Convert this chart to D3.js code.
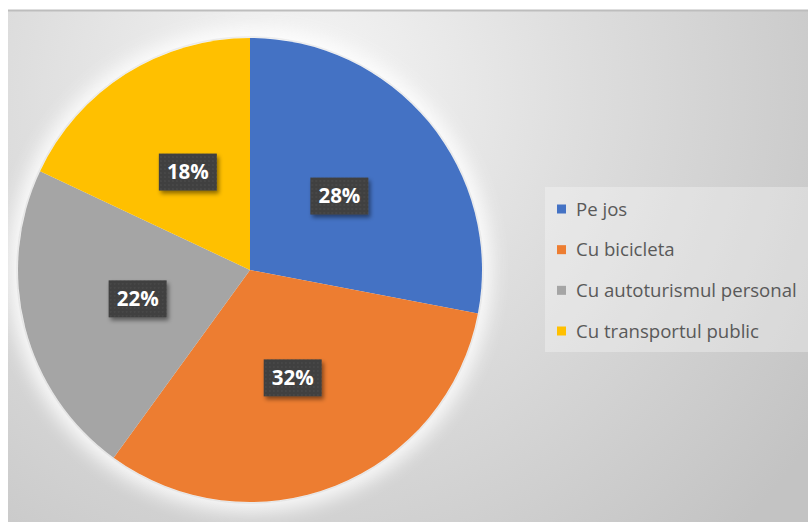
<!DOCTYPE html>
<html>
<head>
<meta charset="utf-8">
<script src="https://cdn.jsdelivr.net/npm/d3@7"></script>
<style>
  html, body { margin: 0; padding: 0; background: #ffffff; }
  svg { display: block; }
</style>
</head>
<body>
<svg id="chart" width="808" height="522"></svg>
<script>
// Modes of travel and their shares (%)
const categories = ["Pe jos", "Cu bicicleta", "Cu autoturismul personal", "Cu transportul public"];
const shares = [28, 32, 22, 18];
const colors = ["#4472C4", "#ED7D31", "#A5A5A5", "#FFC000"];

const svg = d3.select("#chart");
const W = 808, H = 522;
const cx = 250, cy = 270, R = 232;

const defs = svg.append("defs");

// panel background: light at the top, greyer towards the corners
const bg = defs.append("radialGradient").attr("id", "bgGrad")
  .attr("gradientUnits", "userSpaceOnUse")
  .attr("cx", 300).attr("cy", 90).attr("r", 620);
bg.append("stop").attr("offset", "0%").attr("stop-color", "#f6f6f6");
bg.append("stop").attr("offset", "45%").attr("stop-color", "#dedede");
bg.append("stop").attr("offset", "100%").attr("stop-color", "#c3c3c3");

// soft white halo around the pie
const glow = defs.append("filter").attr("id", "glow")
  .attr("x", "-20%").attr("y", "-20%").attr("width", "140%").attr("height", "140%");
glow.append("feGaussianBlur").attr("stdDeviation", 9);

// drop shadow for the data label boxes
const sh = defs.append("filter").attr("id", "lblShadow")
  .attr("x", "-30%").attr("y", "-30%").attr("width", "170%").attr("height", "170%");
sh.append("feDropShadow").attr("dx", 2).attr("dy", 3).attr("stdDeviation", 2)
  .attr("flood-color", "#000").attr("flood-opacity", 0.45);

// dotted texture of the label boxes
const pat = defs.append("pattern").attr("id", "dots")
  .attr("width", 4).attr("height", 4).attr("patternUnits", "userSpaceOnUse");
pat.append("rect").attr("width", 4).attr("height", 4).attr("fill", "#3f3f3f");
pat.append("circle").attr("cx", 1).attr("cy", 1).attr("r", 0.7).attr("fill", "#555555");

// chart panel
svg.append("rect").attr("x", 8).attr("y", 10).attr("width", W - 8).attr("height", H - 10)
  .attr("fill", "url(#bgGrad)");
svg.append("line").attr("x1", 8).attr("x2", W).attr("y1", 10.5).attr("y2", 10.5)
  .attr("stroke", "#bdbdbd").attr("stroke-width", 2);

const g = svg.append("g").attr("transform", `translate(${cx},${cy})`);

g.append("circle").attr("r", R + 10).attr("fill", "#ffffff").attr("opacity", 0.85)
  .attr("filter", "url(#glow)");
g.append("circle").attr("r", R + 1).attr("fill", "none")
  .attr("stroke", "#9a9a9a").attr("stroke-opacity", 0.15).attr("stroke-width", 1.5);

const pie = d3.pie().sort(null).value(d => d)(shares);
const arc = d3.arc().innerRadius(0).outerRadius(R);
const labelArc = d3.arc().innerRadius(R * 0.5).outerRadius(R * 0.5);

g.selectAll("path.slice").data(pie).join("path")
  .attr("class", "slice")
  .attr("d", arc)
  .attr("fill", (d, i) => colors[i]);

// data labels
const boxW = 58, boxH = 37;
const lbl = g.selectAll("g.lbl").data(pie).join("g")
  .attr("class", "lbl")
  .attr("transform", d => { const [x, y] = labelArc.centroid(d); return `translate(${x},${y})`; });
lbl.append("rect")
  .attr("x", -boxW / 2).attr("y", -boxH / 2).attr("width", boxW).attr("height", boxH)
  .attr("fill", "url(#dots)").attr("filter", "url(#lblShadow)");
lbl.append("text")
  .attr("text-anchor", "middle").attr("dy", "0.36em")
  .attr("font-family", "'Open Sans', sans-serif").attr("font-weight", "bold")
  .attr("font-size", 20.5).attr("fill", "#ffffff")
  .text(d => d.data + "%");

// legend
svg.append("rect").attr("x", 545).attr("y", 187).attr("width", W - 545).attr("height", 165)
  .attr("fill", "#ffffff").attr("opacity", 0.3);
const legY = d3.scalePoint().domain(categories).range([209, 331]);
const leg = svg.selectAll("g.leg").data(categories).join("g")
  .attr("class", "leg")
  .attr("transform", d => `translate(557,${legY(d)})`);
leg.append("rect").attr("x", 0).attr("y", -4.5).attr("width", 9).attr("height", 9)
  .attr("fill", (d, i) => colors[i]);
leg.append("text").attr("x", 19).attr("dy", "0.35em")
  .attr("font-family", "'Open Sans', sans-serif")
  .attr("font-size", 18.6).attr("fill", "#595959")
  .text(d => d);
</script>
</body>
</html>
